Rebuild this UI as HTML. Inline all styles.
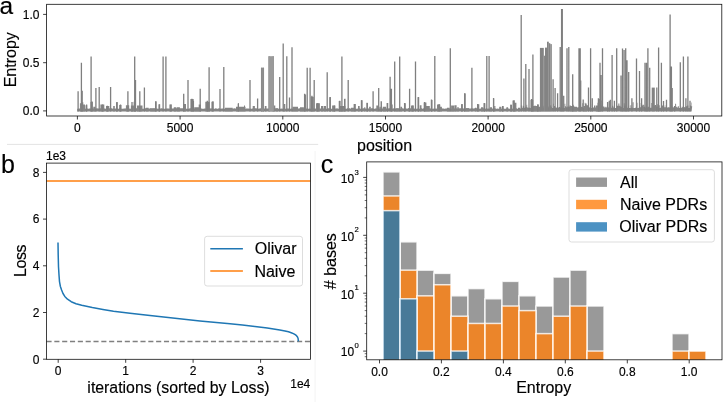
<!DOCTYPE html>
<html><head><meta charset="utf-8"><style>
html,body{margin:0;padding:0;background:#fff;overflow:hidden}
svg{display:block;will-change:transform}
text{font-family:"Liberation Sans",sans-serif}
</style></head><body>
<svg width="723" height="402" viewBox="0 0 723 402">
<defs></defs>
<rect width="723" height="402" fill="#fff"/>
<path d="M77.2 111.4 L77.2 108.7 L78.4 108.7 L78.4 108.5 L79.3 108.5 L79.3 108.5 L79.9 108.5 L79.9 108.8 L80.6 108.8 L80.6 108.3 L81.3 108.3 L81.3 108.4 L82.8 108.4 L82.8 108.6 L84.3 108.6 L84.3 108.2 L85.1 108.2 L85.1 108.8 L86.0 108.8 L86.0 108.7 L87.1 108.7 L87.1 108.6 L88.2 108.6 L88.2 108.8 L89.0 108.8 L89.0 108.6 L89.9 108.6 L89.9 108.5 L90.8 108.5 L90.8 108.4 L91.6 108.4 L91.6 108.5 L93.0 108.5 L93.0 108.6 L94.5 108.6 L94.5 108.6 L95.7 108.6 L95.7 108.5 L96.4 108.5 L96.4 108.3 L97.5 108.3 L97.5 108.6 L98.7 108.6 L98.7 108.4 L99.7 108.4 L99.7 108.2 L100.8 108.2 L100.8 108.8 L102.0 108.8 L102.0 108.2 L103.3 108.2 L103.3 108.6 L104.5 108.6 L104.5 108.5 L105.3 108.5 L105.3 108.8 L106.6 108.8 L106.6 108.7 L107.5 108.7 L107.5 108.8 L108.5 108.8 L108.5 108.2 L109.9 108.2 L109.9 108.7 L110.8 108.7 L110.8 108.2 L112.3 108.2 L112.3 108.7 L113.1 108.7 L113.1 108.5 L114.2 108.5 L114.2 108.8 L115.2 108.8 L115.2 108.5 L116.7 108.5 L116.7 108.5 L117.8 108.5 L117.8 108.8 L119.2 108.8 L119.2 108.2 L120.6 108.2 L120.6 108.6 L121.2 108.6 L121.2 108.8 L121.9 108.8 L121.9 108.7 L122.8 108.7 L122.8 108.8 L123.5 108.8 L123.5 108.6 L124.2 108.6 L124.2 108.4 L124.9 108.4 L124.9 108.6 L125.8 108.6 L125.8 108.3 L127.3 108.3 L127.3 108.5 L128.0 108.5 L128.0 108.6 L128.8 108.6 L128.8 108.7 L129.5 108.7 L129.5 108.5 L130.2 108.5 L130.2 108.8 L131.3 108.8 L131.3 108.2 L132.5 108.2 L132.5 108.6 L133.2 108.6 L133.2 108.5 L134.5 108.5 L134.5 108.7 L135.9 108.7 L135.9 108.3 L137.2 108.3 L137.2 108.3 L138.0 108.3 L138.0 108.6 L138.6 108.6 L138.6 108.7 L139.5 108.7 L139.5 108.2 L140.5 108.2 L140.5 108.2 L141.9 108.2 L141.9 108.7 L142.7 108.7 L142.7 108.7 L143.9 108.7 L143.9 108.3 L144.9 108.3 L144.9 108.3 L145.6 108.3 L145.6 108.2 L146.9 108.2 L146.9 108.5 L147.7 108.5 L147.7 108.6 L149.0 108.6 L149.0 108.6 L150.0 108.6 L150.0 108.3 L150.7 108.3 L150.7 108.7 L152.1 108.7 L152.1 108.7 L153.5 108.7 L153.5 108.4 L154.4 108.4 L154.4 108.8 L155.0 108.8 L155.0 108.4 L156.1 108.4 L156.1 108.5 L157.4 108.5 L157.4 108.7 L158.3 108.7 L158.3 108.7 L159.4 108.7 L159.4 108.6 L160.1 108.6 L160.1 108.6 L161.1 108.6 L161.1 108.2 L162.1 108.2 L162.1 108.5 L163.2 108.5 L163.2 108.8 L164.2 108.8 L164.2 108.8 L165.5 108.8 L165.5 108.5 L166.8 108.5 L166.8 108.6 L167.8 108.6 L167.8 108.3 L168.5 108.3 L168.5 108.7 L169.4 108.7 L169.4 108.5 L170.5 108.5 L170.5 108.2 L171.5 108.2 L171.5 108.5 L172.5 108.5 L172.5 108.5 L173.6 108.5 L173.6 108.2 L174.8 108.2 L174.8 108.2 L175.7 108.2 L175.7 108.2 L177.0 108.2 L177.0 108.8 L178.0 108.8 L178.0 108.7 L178.7 108.7 L178.7 108.3 L180.1 108.3 L180.1 108.3 L181.3 108.3 L181.3 108.2 L182.8 108.2 L182.8 108.2 L183.7 108.2 L183.7 108.2 L185.1 108.2 L185.1 108.5 L186.1 108.5 L186.1 108.7 L187.0 108.7 L187.0 108.8 L188.1 108.8 L188.1 108.8 L189.0 108.8 L189.0 108.5 L189.7 108.5 L189.7 108.3 L191.2 108.3 L191.2 108.7 L191.8 108.7 L191.8 108.7 L192.5 108.7 L192.5 108.2 L193.8 108.2 L193.8 108.7 L195.3 108.7 L195.3 108.4 L196.0 108.4 L196.0 108.4 L196.9 108.4 L196.9 108.2 L198.1 108.2 L198.1 108.8 L199.5 108.8 L199.5 108.2 L200.5 108.2 L200.5 108.5 L201.9 108.5 L201.9 108.8 L203.0 108.8 L203.0 108.8 L203.7 108.8 L203.7 108.7 L204.6 108.7 L204.6 108.3 L205.5 108.3 L205.5 108.7 L206.4 108.7 L206.4 108.7 L207.0 108.7 L207.0 108.5 L207.8 108.5 L207.8 108.2 L208.5 108.2 L208.5 108.5 L209.5 108.5 L209.5 108.6 L210.6 108.6 L210.6 108.2 L211.5 108.2 L211.5 108.4 L212.7 108.4 L212.7 108.6 L213.3 108.6 L213.3 108.8 L214.6 108.8 L214.6 108.7 L215.2 108.7 L215.2 108.2 L216.5 108.2 L216.5 108.7 L217.3 108.7 L217.3 108.7 L218.3 108.7 L218.3 108.2 L219.8 108.2 L219.8 108.7 L221.3 108.7 L221.3 108.6 L221.9 108.6 L221.9 108.5 L222.9 108.5 L222.9 108.5 L223.5 108.5 L223.5 108.8 L224.5 108.8 L224.5 108.8 L225.4 108.8 L225.4 108.4 L226.4 108.4 L226.4 108.4 L227.7 108.4 L227.7 108.6 L228.6 108.6 L228.6 108.7 L229.8 108.7 L229.8 108.8 L231.2 108.8 L231.2 108.4 L232.4 108.4 L232.4 108.8 L233.5 108.8 L233.5 108.3 L234.8 108.3 L234.8 108.4 L236.2 108.4 L236.2 108.4 L237.0 108.4 L237.0 108.8 L238.0 108.8 L238.0 108.3 L239.1 108.3 L239.1 108.4 L240.3 108.4 L240.3 108.8 L241.6 108.8 L241.6 108.5 L242.7 108.5 L242.7 108.8 L243.9 108.8 L243.9 108.8 L244.8 108.8 L244.8 108.7 L246.0 108.7 L246.0 108.5 L247.0 108.5 L247.0 108.4 L248.3 108.4 L248.3 108.4 L248.9 108.4 L248.9 108.7 L250.2 108.7 L250.2 108.5 L250.8 108.5 L250.8 108.7 L252.0 108.7 L252.0 108.4 L252.9 108.4 L252.9 108.5 L253.9 108.5 L253.9 108.2 L254.7 108.2 L254.7 108.2 L255.3 108.2 L255.3 108.3 L256.8 108.3 L256.8 108.7 L257.6 108.7 L257.6 108.7 L258.7 108.7 L258.7 108.5 L260.2 108.5 L260.2 108.3 L261.2 108.3 L261.2 108.4 L262.0 108.4 L262.0 108.5 L262.6 108.5 L262.6 108.5 L263.6 108.5 L263.6 108.8 L264.6 108.8 L264.6 108.3 L265.2 108.3 L265.2 108.3 L265.9 108.3 L265.9 108.4 L267.3 108.4 L267.3 108.6 L268.2 108.6 L268.2 108.4 L269.2 108.4 L269.2 108.7 L269.8 108.7 L269.8 108.3 L270.7 108.3 L270.7 108.7 L271.5 108.7 L271.5 108.7 L272.4 108.7 L272.4 108.2 L273.8 108.2 L273.8 108.2 L275.2 108.2 L275.2 108.3 L275.9 108.3 L275.9 108.5 L277.1 108.5 L277.1 108.6 L277.8 108.6 L277.8 108.8 L278.8 108.8 L278.8 108.6 L280.1 108.6 L280.1 108.7 L281.3 108.7 L281.3 108.5 L282.2 108.5 L282.2 108.7 L283.0 108.7 L283.0 108.5 L283.8 108.5 L283.8 108.2 L284.8 108.2 L284.8 108.7 L285.5 108.7 L285.5 108.8 L286.3 108.8 L286.3 108.5 L287.7 108.5 L287.7 108.6 L288.7 108.6 L288.7 108.6 L289.6 108.6 L289.6 108.7 L291.0 108.7 L291.0 108.5 L292.2 108.5 L292.2 108.7 L293.1 108.7 L293.1 108.6 L294.1 108.6 L294.1 108.3 L295.4 108.3 L295.4 108.8 L296.7 108.8 L296.7 108.5 L297.8 108.5 L297.8 108.6 L299.2 108.6 L299.2 108.3 L300.7 108.3 L300.7 108.8 L301.5 108.8 L301.5 108.4 L302.9 108.4 L302.9 108.4 L304.2 108.4 L304.2 108.5 L304.8 108.5 L304.8 108.7 L306.3 108.7 L306.3 108.6 L307.0 108.6 L307.0 108.4 L308.2 108.4 L308.2 108.8 L309.3 108.8 L309.3 108.6 L310.1 108.6 L310.1 108.8 L310.9 108.8 L310.9 108.2 L312.1 108.2 L312.1 108.5 L312.9 108.5 L312.9 108.2 L314.2 108.2 L314.2 108.8 L315.2 108.8 L315.2 108.6 L316.0 108.6 L316.0 108.2 L316.9 108.2 L316.9 108.6 L317.8 108.6 L317.8 108.7 L319.1 108.7 L319.1 108.5 L319.9 108.5 L319.9 108.6 L321.3 108.6 L321.3 108.7 L322.6 108.7 L322.6 108.2 L323.6 108.2 L323.6 108.7 L324.6 108.7 L324.6 108.2 L325.3 108.2 L325.3 108.7 L326.8 108.7 L326.8 108.8 L327.4 108.8 L327.4 108.2 L328.8 108.2 L328.8 108.2 L330.3 108.2 L330.3 108.7 L331.7 108.7 L331.7 108.8 L332.9 108.8 L332.9 108.6 L333.8 108.6 L333.8 108.8 L334.7 108.8 L334.7 108.2 L335.4 108.2 L335.4 108.7 L336.3 108.7 L336.3 108.3 L337.3 108.3 L337.3 108.5 L338.2 108.5 L338.2 108.7 L339.1 108.7 L339.1 108.8 L340.1 108.8 L340.1 108.3 L340.8 108.3 L340.8 108.8 L342.2 108.8 L342.2 108.3 L343.6 108.3 L343.6 108.7 L345.1 108.7 L345.1 108.7 L346.3 108.7 L346.3 108.7 L346.9 108.7 L346.9 108.2 L348.1 108.2 L348.1 108.8 L348.9 108.8 L348.9 108.2 L350.3 108.2 L350.3 108.7 L351.3 108.7 L351.3 108.2 L352.1 108.2 L352.1 108.3 L353.4 108.3 L353.4 108.4 L354.3 108.4 L354.3 108.6 L355.6 108.6 L355.6 108.7 L356.9 108.7 L356.9 108.8 L357.5 108.8 L357.5 108.6 L359.0 108.6 L359.0 108.2 L359.9 108.2 L359.9 108.8 L360.9 108.8 L360.9 108.5 L361.7 108.5 L361.7 108.4 L362.9 108.4 L362.9 108.3 L364.1 108.3 L364.1 108.3 L365.0 108.3 L365.0 108.6 L366.3 108.6 L366.3 108.7 L367.1 108.7 L367.1 108.2 L368.2 108.2 L368.2 108.6 L369.7 108.6 L369.7 108.7 L371.0 108.7 L371.0 108.2 L371.7 108.2 L371.7 108.3 L373.1 108.3 L373.1 108.8 L373.9 108.8 L373.9 108.7 L375.4 108.7 L375.4 108.2 L376.3 108.2 L376.3 108.5 L377.2 108.5 L377.2 108.2 L377.9 108.2 L377.9 108.4 L378.7 108.4 L378.7 108.8 L379.4 108.8 L379.4 108.4 L380.6 108.4 L380.6 108.8 L381.5 108.8 L381.5 108.7 L382.4 108.7 L382.4 108.3 L383.5 108.3 L383.5 108.8 L384.5 108.8 L384.5 108.4 L385.1 108.4 L385.1 108.4 L386.1 108.4 L386.1 108.6 L387.6 108.6 L387.6 108.5 L388.5 108.5 L388.5 108.2 L390.0 108.2 L390.0 108.7 L391.2 108.7 L391.2 108.8 L392.7 108.8 L392.7 108.3 L393.6 108.3 L393.6 108.5 L394.4 108.5 L394.4 108.5 L395.5 108.5 L395.5 108.8 L396.7 108.8 L396.7 108.5 L397.4 108.5 L397.4 108.5 L398.9 108.5 L398.9 108.5 L400.2 108.5 L400.2 108.7 L400.9 108.7 L400.9 108.2 L401.9 108.2 L401.9 108.2 L402.9 108.2 L402.9 108.4 L404.2 108.4 L404.2 108.3 L405.0 108.3 L405.0 108.3 L406.4 108.3 L406.4 108.7 L407.3 108.7 L407.3 108.6 L408.0 108.6 L408.0 108.3 L409.5 108.3 L409.5 108.5 L410.7 108.5 L410.7 108.3 L411.4 108.3 L411.4 108.5 L412.6 108.5 L412.6 108.6 L413.7 108.6 L413.7 108.4 L414.7 108.4 L414.7 108.8 L415.9 108.8 L415.9 108.7 L417.2 108.7 L417.2 108.5 L417.9 108.5 L417.9 108.8 L418.7 108.8 L418.7 108.8 L419.7 108.8 L419.7 108.8 L420.8 108.8 L420.8 108.3 L422.1 108.3 L422.1 108.8 L423.2 108.8 L423.2 108.2 L423.9 108.2 L423.9 108.2 L425.2 108.2 L425.2 108.7 L426.6 108.7 L426.6 108.2 L428.1 108.2 L428.1 108.3 L429.5 108.3 L429.5 108.6 L430.8 108.6 L430.8 108.2 L431.6 108.2 L431.6 108.7 L432.7 108.7 L432.7 108.7 L433.5 108.7 L433.5 108.6 L434.2 108.6 L434.2 108.7 L435.6 108.7 L435.6 108.2 L436.3 108.2 L436.3 108.8 L437.4 108.8 L437.4 108.6 L438.8 108.6 L438.8 108.4 L440.2 108.4 L440.2 108.2 L441.4 108.2 L441.4 108.3 L442.2 108.3 L442.2 108.4 L443.1 108.4 L443.1 108.5 L443.9 108.5 L443.9 108.8 L445.2 108.8 L445.2 108.4 L446.7 108.4 L446.7 108.4 L447.6 108.4 L447.6 108.8 L448.3 108.8 L448.3 108.5 L449.4 108.5 L449.4 108.8 L450.2 108.8 L450.2 108.8 L450.8 108.8 L450.8 108.8 L451.7 108.8 L451.7 108.4 L452.9 108.4 L452.9 108.4 L453.9 108.4 L453.9 108.2 L454.7 108.2 L454.7 108.8 L455.9 108.8 L455.9 108.3 L456.8 108.3 L456.8 108.8 L458.0 108.8 L458.0 108.6 L459.2 108.6 L459.2 108.2 L460.5 108.2 L460.5 108.2 L461.1 108.2 L461.1 108.6 L461.9 108.6 L461.9 108.3 L462.5 108.3 L462.5 108.2 L463.3 108.2 L463.3 108.4 L464.3 108.4 L464.3 108.3 L465.1 108.3 L465.1 108.6 L465.7 108.6 L465.7 108.3 L467.0 108.3 L467.0 108.3 L468.2 108.3 L468.2 108.3 L469.2 108.3 L469.2 108.8 L470.0 108.8 L470.0 108.6 L471.3 108.6 L471.3 108.3 L472.6 108.3 L472.6 108.5 L473.5 108.5 L473.5 108.5 L474.4 108.5 L474.4 108.2 L475.2 108.2 L475.2 108.8 L476.0 108.8 L476.0 108.3 L477.5 108.3 L477.5 108.6 L478.9 108.6 L478.9 108.7 L480.3 108.7 L480.3 108.4 L481.5 108.4 L481.5 108.5 L482.8 108.5 L482.8 108.2 L483.8 108.2 L483.8 108.5 L484.7 108.5 L484.7 108.4 L485.4 108.4 L485.4 108.7 L486.0 108.7 L486.0 108.2 L486.9 108.2 L486.9 108.8 L487.5 108.8 L487.5 108.4 L488.8 108.4 L488.8 108.8 L489.9 108.8 L489.9 108.3 L491.2 108.3 L491.2 108.8 L492.6 108.8 L492.6 108.2 L493.3 108.2 L493.3 108.8 L493.9 108.8 L493.9 108.3 L495.1 108.3 L495.1 108.4 L496.0 108.4 L496.0 108.8 L497.3 108.8 L497.3 108.6 L498.2 108.6 L498.2 108.7 L499.1 108.7 L499.1 108.6 L500.0 108.6 L500.0 108.5 L501.3 108.5 L501.3 108.8 L502.3 108.8 L502.3 108.3 L503.2 108.3 L503.2 108.5 L504.0 108.5 L504.0 108.8 L505.4 108.8 L505.4 108.8 L506.1 108.8 L506.1 108.2 L506.8 108.2 L506.8 108.5 L508.1 108.5 L508.1 108.5 L509.0 108.5 L509.0 108.7 L510.4 108.7 L510.4 108.7 L511.7 108.7 L511.7 108.8 L512.8 108.8 L512.8 108.3 L514.1 108.3 L514.1 108.4 L515.0 108.4 L515.0 108.6 L516.4 108.6 L516.4 108.2 L517.0 108.2 L517.0 108.7 L518.4 108.7 L518.4 108.6 L519.8 108.6 L519.8 108.5 L520.9 108.5 L520.9 105.6 L522.1 105.6 L522.1 107.8 L522.8 107.8 L522.8 105.8 L524.1 105.8 L524.1 107.7 L525.4 107.7 L525.4 106.8 L526.4 106.8 L526.4 104.8 L527.2 104.8 L527.2 107.4 L528.5 107.4 L528.5 107.9 L529.3 107.9 L529.3 107.6 L530.1 107.6 L530.1 107.9 L531.6 107.9 L531.6 106.9 L533.0 106.9 L533.0 107.7 L534.5 107.7 L534.5 105.6 L535.5 105.6 L535.5 107.5 L536.2 107.5 L536.2 107.7 L536.8 107.7 L536.8 107.3 L538.1 107.3 L538.1 107.5 L539.1 107.5 L539.1 107.5 L540.0 107.5 L540.0 105.3 L541.0 105.3 L541.0 105.6 L542.0 105.6 L542.0 107.4 L543.4 107.4 L543.4 105.7 L544.8 105.7 L544.8 105.8 L545.8 105.8 L545.8 107.5 L546.5 107.5 L546.5 107.3 L547.7 107.3 L547.7 106.6 L548.7 106.6 L548.7 107.5 L549.7 107.5 L549.7 105.2 L550.4 105.2 L550.4 105.5 L551.4 105.5 L551.4 107.1 L552.0 107.1 L552.0 107.9 L553.3 107.9 L553.3 103.8 L554.0 103.8 L554.0 106.0 L555.2 106.0 L555.2 107.5 L556.6 107.5 L556.6 107.7 L558.0 107.7 L558.0 107.4 L559.0 107.4 L559.0 106.9 L560.5 106.9 L560.5 108.0 L561.3 108.0 L561.3 108.1 L562.3 108.1 L562.3 107.4 L563.2 107.4 L563.2 107.9 L564.5 107.9 L564.5 103.8 L565.3 103.8 L565.3 106.3 L566.1 106.3 L566.1 107.3 L567.4 107.3 L567.4 106.2 L568.5 106.2 L568.5 107.1 L569.4 107.1 L569.4 105.5 L570.8 105.5 L570.8 107.8 L571.9 107.8 L571.9 107.3 L572.8 107.3 L572.8 104.7 L573.7 104.7 L573.7 107.7 L574.5 107.7 L574.5 107.4 L575.3 107.4 L575.3 107.8 L576.4 107.8 L576.4 107.5 L577.6 107.5 L577.6 107.2 L578.9 107.2 L578.9 107.3 L580.3 107.3 L580.3 106.8 L581.7 106.8 L581.7 107.1 L582.3 107.1 L582.3 103.3 L583.1 103.3 L583.1 108.0 L583.9 108.0 L583.9 106.4 L584.7 106.4 L584.7 102.8 L585.4 102.8 L585.4 103.5 L586.7 103.5 L586.7 105.3 L588.0 105.3 L588.0 106.7 L589.3 106.7 L589.3 107.4 L590.3 107.4 L590.3 103.7 L591.1 103.7 L591.1 108.0 L592.1 108.0 L592.1 107.6 L592.9 107.6 L592.9 107.6 L594.0 107.6 L594.0 105.6 L595.3 105.6 L595.3 107.5 L596.5 107.5 L596.5 106.4 L597.5 106.4 L597.5 102.7 L598.7 102.7 L598.7 107.0 L599.8 107.0 L599.8 105.2 L600.7 105.2 L600.7 100.5 L601.7 100.5 L601.7 105.5 L603.0 105.5 L603.0 106.4 L604.4 106.4 L604.4 107.6 L605.4 107.6 L605.4 106.7 L606.4 106.7 L606.4 107.5 L607.8 107.5 L607.8 107.3 L608.7 107.3 L608.7 107.8 L609.8 107.8 L609.8 99.8 L611.1 99.8 L611.1 107.8 L612.0 107.8 L612.0 105.8 L613.3 105.8 L613.3 107.4 L614.7 107.4 L614.7 108.1 L615.5 108.1 L615.5 107.9 L617.0 107.9 L617.0 105.8 L618.3 105.8 L618.3 103.5 L619.4 103.5 L619.4 105.7 L620.6 105.7 L620.6 106.7 L621.8 106.7 L621.8 107.3 L622.5 107.3 L622.5 108.1 L623.8 108.1 L623.8 103.3 L624.7 103.3 L624.7 105.5 L625.8 105.5 L625.8 107.8 L626.8 107.8 L626.8 107.7 L628.0 107.7 L628.0 105.4 L629.1 105.4 L629.1 108.0 L630.4 108.0 L630.4 105.3 L631.4 105.3 L631.4 107.7 L632.5 107.7 L632.5 102.2 L633.6 102.2 L633.6 108.0 L634.7 108.0 L634.7 107.9 L635.4 107.9 L635.4 107.4 L636.1 107.4 L636.1 102.7 L637.5 102.7 L637.5 108.1 L638.7 108.1 L638.7 107.4 L639.5 107.4 L639.5 107.3 L640.7 107.3 L640.7 103.0 L641.4 103.0 L641.4 105.7 L642.4 105.7 L642.4 104.7 L643.9 104.7 L643.9 107.1 L644.5 107.1 L644.5 105.5 L645.2 105.5 L645.2 107.4 L645.9 107.4 L645.9 103.9 L646.6 103.9 L646.6 107.5 L647.6 107.5 L647.6 106.8 L648.9 106.8 L648.9 107.5 L650.0 107.5 L650.0 107.7 L651.3 107.7 L651.3 102.9 L652.5 102.9 L652.5 108.0 L653.9 108.0 L653.9 105.4 L654.8 105.4 L654.8 105.1 L656.2 105.1 L656.2 106.5 L657.2 106.5 L657.2 104.3 L658.4 104.3 L658.4 105.3 L659.7 105.3 L659.7 108.1 L660.5 108.1 L660.5 107.5 L661.9 107.5 L661.9 105.5 L663.2 105.5 L663.2 105.4 L664.3 105.4 L664.3 107.2 L665.7 107.2 L665.7 105.3 L666.6 105.3 L666.6 107.5 L667.9 107.5 L667.9 107.3 L669.3 107.3 L669.3 107.5 L670.5 107.5 L670.5 107.9 L671.4 107.9 L671.4 105.5 L672.4 105.5 L672.4 107.3 L673.7 107.3 L673.7 107.5 L675.1 107.5 L675.1 103.8 L676.1 103.8 L676.1 106.7 L676.9 106.7 L676.9 107.4 L677.8 107.4 L677.8 106.3 L678.9 106.3 L678.9 108.1 L680.4 108.1 L680.4 108.0 L681.6 108.0 L681.6 106.8 L682.7 106.8 L682.7 107.6 L683.3 107.6 L683.3 107.1 L684.7 107.1 L684.7 107.5 L685.5 107.5 L685.5 106.2 L687.0 106.2 L687.0 105.5 L688.4 105.5 L688.4 108.1 L689.2 108.1 L689.2 108.0 L689.9 108.0 L689.9 105.4 L690.9 105.4 L690.9 102.4 L691.5 102.4 L691.5 106.3 L692.2 106.3 L691.6 111.4 Z" fill="#858585"/>
<path d="M79.9 111.4H81.0V103.3H79.9ZM81.0 111.4H83.3V102.3H81.0ZM83.3 111.4H85.0V104.5H83.3ZM85.5 111.4H87.2V105.3H85.5ZM90.5 111.4H92.7V101.9H90.5ZM93.3 111.4H95.5V106.7H93.3ZM100.4 111.4H104.3V104.5H100.4ZM106.0 111.4H109.3V106.1H106.0ZM113.2 111.4H114.8V106.1H113.2ZM116.0 111.4H117.6V102.3H116.0ZM119.2 111.4H121.5V105.0H119.2ZM125.9 111.4H129.2V105.3H125.9ZM130.9 111.4H135.3V105.6H130.9ZM133.6 111.4H135.8V101.7H133.6ZM137.0 111.4H142.5V105.6H137.0ZM145.8 111.4H148.6V107.8H145.8ZM150.2 111.4H155.0V108.3H150.2ZM155.0 111.4H156.6V101.4H155.0ZM158.6 111.4H160.2V104.3H158.6ZM169.4 111.4H171.6V104.5H169.4ZM173.8 111.4H176.0V107.3H173.8ZM176.5 111.4H179.9V107.3H176.5ZM183.2 111.4H186.0V103.9H183.2ZM190.4 111.4H193.7V98.9H190.4ZM194.2 111.4H198.7V107.3H194.2ZM198.7 111.4H200.9V104.5H198.7ZM205.3 111.4H209.7V101.7H205.3ZM211.4 111.4H213.6V101.7H211.4ZM226.3 111.4H230.0V108.3H226.3ZM225.0 111.4H232.7V107.8H225.0ZM236.0 111.4H245.5V106.7H236.0ZM238.0 111.4H239.0V103.3H238.0ZM244.0 111.4H245.0V105.6H244.0ZM252.7 111.4H254.9V106.1H252.7ZM264.8 111.4H266.5V106.1H264.8ZM273.7 111.4H275.3V105.6H273.7ZM275.9 111.4H278.1V108.3H275.9ZM283.6 111.4H285.3V103.9H283.6ZM292.5 111.4H298.0V106.7H292.5ZM300.2 111.4H302.4V107.3H300.2ZM300.0 111.4H303.9V107.3H300.0ZM304.2 111.4H306.1V94.5H304.2ZM310.8 111.4H313.8V96.7H310.8ZM316.0 111.4H319.9V103.3H316.0ZM321.0 111.4H323.2V106.1H321.0ZM323.8 111.4H326.0V106.1H323.8ZM329.3 111.4H330.8V97.3H329.3ZM332.1 111.4H335.4V105.6H332.1ZM338.7 111.4H340.4V101.1H338.7ZM340.4 111.4H345.4V106.1H340.4ZM344.0 111.4H345.0V98.9H344.0ZM350.9 111.4H355.3V107.8H350.9ZM353.6 111.4H355.3V103.9H353.6ZM358.0 111.4H359.7V106.1H358.0ZM360.8 111.4H362.5V100.3H360.8ZM364.2 111.4H365.3V107.3H364.2ZM366.4 111.4H367.7V102.8H366.4ZM369.1 111.4H370.8V106.7H369.1ZM376.3 111.4H378.0V105.6H376.3ZM379.4 111.4H380.8V106.7H379.4ZM381.1 111.4H381.9V101.7H381.1ZM382.7 111.4H386.1V106.7H382.7ZM386.6 111.4H387.7V103.1H386.6ZM391.0 111.4H392.7V104.5H391.0ZM395.5 111.4H398.8V108.3H395.5ZM400.4 111.4H402.1V106.7H400.4ZM404.0 111.4H405.8V103.3H404.0ZM408.2 111.4H410.4V108.3H408.2ZM411.0 111.4H413.7V105.6H411.0ZM417.6 111.4H419.2V97.3H417.6ZM419.8 111.4H421.5V105.3H419.8ZM423.7 111.4H426.4V102.5H423.7ZM426.4 111.4H429.8V106.1H426.4ZM430.9 111.4H432.5V100.0H430.9ZM437.0 111.4H440.3V104.5H437.0ZM440.3 111.4H441.9V106.7H440.3ZM446.9 111.4H449.7V107.8H446.9ZM451.9 111.4H454.1V105.6H451.9ZM451.1 111.4H452.8V105.6H451.1ZM454.4 111.4H456.6V105.3H454.4ZM457.2 111.4H458.8V107.3H457.2ZM461.1 111.4H462.7V104.3H461.1ZM464.2 111.4H465.7V93.4H464.2ZM466.0 111.4H469.4V108.3H466.0ZM474.9 111.4H476.5V107.8H474.9ZM477.4 111.4H479.3V104.3H477.4ZM481.0 111.4H483.2V107.3H481.0ZM483.7 111.4H485.4V103.3H483.7ZM489.8 111.4H492.0V107.3H489.8ZM492.9 111.4H494.0V98.1H492.9ZM494.2 111.4H495.4V106.1H494.2ZM499.2 111.4H501.4V106.7H499.2ZM502.0 111.4H503.7V106.1H502.0ZM506.4 111.4H508.1V107.3H506.4ZM510.3 111.4H512.0V105.0H510.3ZM512.5 111.4H514.5V100.6H512.5ZM514.5 111.4H516.4V102.8H514.5ZM518.0 111.4H520.0V107.8H518.0ZM530.5 111.4H533.3V100.0H530.5ZM533.3 111.4H537.2V106.1H533.3ZM537.2 111.4H538.8V104.5H537.2ZM538.8 111.4H540.5V106.7H538.8ZM569.8 111.4H574.2V106.1H569.8ZM574.2 111.4H577.0V106.7H574.2ZM583.6 111.4H587.0V106.1H583.6ZM595.8 111.4H598.0V105.6H595.8ZM598.0 111.4H600.2V98.9H598.0Z" fill="#858585"/>
<path d="M78.1 111.4V91.2M81.4 111.4V62.8M82.2 111.4V90.7M91.1 111.4V56.4M92.1 111.4V101.6M95.9 111.4V88.1M99.2 111.4V86.9M86.6 111.4V104.4M102.5 111.4V104.4M107.3 111.4V105.7M110.6 111.4V86.9M117.0 111.4V102.1M120.5 111.4V104.4M127.9 111.4V91.2M134.7 111.4V56.4M135.5 111.4V80.0M132.0 111.4V102.0M139.8 111.4V91.2M144.4 111.4V87.6M155.8 111.4V101.3M159.3 111.4V104.6M163.1 111.4V56.4M165.9 111.4V56.4M171.0 111.4V104.6M183.7 111.4V93.7M188.0 111.4V80.0M191.9 111.4V98.8M193.4 111.4V100.8M200.2 111.4V88.7M207.3 111.4V100.8M209.1 111.4V67.3M212.9 111.4V101.3M220.0 111.4V88.9M223.8 111.4V67.1M238.3 111.4V103.4M250.0 111.4V80.0M257.6 111.4V98.6M261.6 111.4V67.7M263.4 111.4V67.7M269.1 111.4V56.2M273.2 111.4V56.2M279.7 111.4V77.1M283.2 111.4V43.6M286.8 111.4V56.2M289.5 111.4V97.4M292.0 111.4V47.2M304.6 111.4V93.7M307.2 111.4V67.8M310.1 111.4V67.8M311.9 111.4V95.8M314.2 111.4V80.0M317.8 111.4V102.9M327.2 111.4V72.2M330.2 111.4V97.0M334.3 111.4V105.4M339.8 111.4V100.8M341.9 111.4V56.4M344.9 111.4V98.8M348.2 111.4V80.0M355.1 111.4V103.9M361.7 111.4V100.3M367.3 111.4V102.9M373.1 111.4V91.2M378.7 111.4V88.1M381.2 111.4V101.3M387.6 111.4V102.9M390.1 111.4V76.7M391.4 111.4V88.7M394.7 111.4V61.5M399.7 111.4V56.4M404.6 111.4V102.9M409.6 111.4V88.7M412.9 111.4V105.4M415.5 111.4V61.5M418.4 111.4V97.0M424.6 111.4V102.1M431.5 111.4V99.6M434.8 111.4V55.9M439.1 111.4V103.9M450.3 111.4V48.3M462.0 111.4V103.9M464.7 111.4V93.2M471.9 111.4V67.8M477.7 111.4V103.9M484.3 111.4V102.9M486.8 111.4V55.9M489.1 111.4V55.9M493.7 111.4V98.3M502.6 111.4V106.4M511.0 111.4V104.6M514.0 111.4V100.3M521.2 111.4V14.9M523.9 111.4V78.5M525.8 111.4V64.0M529.0 111.4V69.1M532.9 111.4V54.6M531.5 111.4V99.0M537.8 111.4V104.6M553.1 111.4V79.3M555.1 111.4V88.1M557.6 111.4V93.2M560.2 111.4V47.0M561.6 111.4V8.9M562.3 111.4V8.9M563.7 111.4V95.8M567.0 111.4V48.3M568.8 111.4V47.0M572.7 111.4V74.2M579.0 111.4V48.3M580.2 111.4V48.3M580.7 111.4V80.5M583.2 111.4V99.6M588.5 111.4V87.6M590.6 111.4V48.3M592.3 111.4V98.3M598.4 111.4V98.3M600.0 111.4V62.8M601.0 111.4V75.0M602.5 111.4V48.3M607.6 111.4V102.1M609.3 111.4V100.8M612.1 111.4V55.1M614.4 111.4V100.8M616.7 111.4V48.3M621.0 111.4V75.5M622.5 111.4V48.5M624.1 111.4V50.1M625.7 111.4V48.3M627.0 111.4V60.2M628.7 111.4V72.0M631.9 111.4V98.3M636.5 111.4V58.4M639.5 111.4V70.9M641.6 111.4V98.3M645.0 111.4V62.8M646.5 111.4V62.8M647.9 111.4V48.3M649.7 111.4V67.8M656.8 111.4V87.6M658.6 111.4V47.5M661.4 111.4V62.8M663.5 111.4V101.0M666.5 111.4V99.8M670.1 111.4V14.5M671.4 111.4V66.6M672.2 111.4V88.1M674.6 111.4V105.9M680.3 111.4V62.3M683.4 111.4V56.4M685.9 111.4V98.3M687.9 111.4V56.4M690.0 111.4V100.8" stroke="#7f7f7f" stroke-width="1.3" fill="none"/>
<rect x="268.6" y="56.2" width="5.2" height="55.2" fill="#9a9a9a"/>
<rect x="261.2" y="67.7" width="2.7" height="43.7" fill="#8e8e8e"/>
<rect x="539.9" y="47.9" width="3.9" height="63.5" fill="#838383"/>
<rect x="543.8" y="55.7" width="1.2" height="55.7" fill="#8a8a8a"/>
<rect x="545.0" y="47.6" width="2.0" height="63.8" fill="#838383"/>
<rect x="547.0" y="41.7" width="1.8" height="69.7" fill="#838383"/>
<rect x="548.8" y="43.2" width="1.5" height="68.2" fill="#838383"/>
<rect x="550.3" y="44.1" width="1.5" height="67.3" fill="#838383"/>
<rect x="651.7" y="87.6" width="3.1" height="23.8" fill="#838383"/>
<rect x="46.6" y="4.3" width="675.2" height="111.7" fill="none" stroke="#111" stroke-width="0.80"/>
<line x1="43.1" x2="46.6" y1="110.9" y2="110.9" stroke="#111" stroke-width="0.80"/>
<text x="39.40" y="115.20" font-size="12.00" text-anchor="end" fill="#000" stroke="#000" stroke-width="0.15" stroke-linejoin="round">0.0</text>
<line x1="43.1" x2="46.6" y1="62.7" y2="62.7" stroke="#111" stroke-width="0.80"/>
<text x="39.40" y="66.95" font-size="12.00" text-anchor="end" fill="#000" stroke="#000" stroke-width="0.15" stroke-linejoin="round">0.5</text>
<line x1="43.1" x2="46.6" y1="14.4" y2="14.4" stroke="#111" stroke-width="0.80"/>
<text x="39.40" y="18.70" font-size="12.00" text-anchor="end" fill="#000" stroke="#000" stroke-width="0.15" stroke-linejoin="round">1.0</text>
<line x1="77.4" x2="77.4" y1="116.0" y2="119.5" stroke="#111" stroke-width="0.80"/>
<text x="77.40" y="131.50" font-size="12.00" text-anchor="middle" fill="#000" stroke="#000" stroke-width="0.15" stroke-linejoin="round">0</text>
<line x1="180.1" x2="180.1" y1="116.0" y2="119.5" stroke="#111" stroke-width="0.80"/>
<text x="180.09" y="131.50" font-size="12.00" text-anchor="middle" fill="#000" stroke="#000" stroke-width="0.15" stroke-linejoin="round">5000</text>
<line x1="282.8" x2="282.8" y1="116.0" y2="119.5" stroke="#111" stroke-width="0.80"/>
<text x="282.77" y="131.50" font-size="12.00" text-anchor="middle" fill="#000" stroke="#000" stroke-width="0.15" stroke-linejoin="round">10000</text>
<line x1="385.5" x2="385.5" y1="116.0" y2="119.5" stroke="#111" stroke-width="0.80"/>
<text x="385.46" y="131.50" font-size="12.00" text-anchor="middle" fill="#000" stroke="#000" stroke-width="0.15" stroke-linejoin="round">15000</text>
<line x1="488.1" x2="488.1" y1="116.0" y2="119.5" stroke="#111" stroke-width="0.80"/>
<text x="488.14" y="131.50" font-size="12.00" text-anchor="middle" fill="#000" stroke="#000" stroke-width="0.15" stroke-linejoin="round">20000</text>
<line x1="590.8" x2="590.8" y1="116.0" y2="119.5" stroke="#111" stroke-width="0.80"/>
<text x="590.82" y="131.50" font-size="12.00" text-anchor="middle" fill="#000" stroke="#000" stroke-width="0.15" stroke-linejoin="round">25000</text>
<line x1="693.5" x2="693.5" y1="116.0" y2="119.5" stroke="#111" stroke-width="0.80"/>
<text x="693.51" y="131.50" font-size="12.00" text-anchor="middle" fill="#000" stroke="#000" stroke-width="0.15" stroke-linejoin="round">30000</text>
<text x="384.60" y="151.00" font-size="16.00" text-anchor="middle" fill="#000" stroke="#000" stroke-width="0.15" stroke-linejoin="round">position</text>
<text transform="translate(16.20 59.80) rotate(-90)" font-size="16.00" text-anchor="middle" fill="#000" stroke="#000" stroke-width="0.15" stroke-linejoin="round">Entropy</text>
<text x="-0.40" y="13.80" font-size="24.50" fill="#000" stroke="#000" stroke-width="0.15" stroke-linejoin="round">a</text>
<line x1="7" x2="318.2" y1="144.4" y2="144.4" stroke="#e4e4e4" stroke-width="1"/>
<line x1="315.1" x2="315.1" y1="151" y2="402" stroke="#f3f3f3" stroke-width="1"/>
<line x1="46.5" x2="310.5" y1="180.9" y2="180.9" stroke="#ff7f0e" stroke-width="1.5"/>
<line x1="46.5" x2="310.5" y1="341.5" y2="341.5" stroke="#808080" stroke-width="1.4" stroke-dasharray="5.1 2.73"/>
<path d="M58.0 242.6 L58.2 255.0 L58.5 266.7 L59.0 275.0 L59.5 281.6 L60.4 286.5 L61.6 290.0 L63.0 293.5 L64.8 296.4 L67.5 299.2 L71.2 301.7 L76.0 303.7 L81.7 305.3 L92.3 307.6 L102.9 309.5 L113.5 311.2 L130.0 313.3 L150.0 315.6 L175.0 318.3 L200.0 321.0 L230.0 323.7 L242.4 324.9 L254.9 326.4 L267.3 328.0 L279.8 329.9 L285.0 330.9 L288.5 331.8 L291.2 332.7 L293.4 333.6 L295.2 334.7 L296.5 335.7 L297.5 337.0 L298.1 338.5 L298.4 341.3" stroke="#1f77b4" stroke-width="1.5" fill="none" stroke-linejoin="round"/>
<rect x="46.5" y="163.1" width="264.0" height="196.2" fill="none" stroke="#111" stroke-width="0.80"/>
<line x1="43.0" x2="46.5" y1="359.2" y2="359.2" stroke="#111" stroke-width="0.80"/>
<text x="39.40" y="363.50" font-size="12.00" text-anchor="end" fill="#000" stroke="#000" stroke-width="0.15" stroke-linejoin="round">0</text>
<line x1="43.0" x2="46.5" y1="312.5" y2="312.5" stroke="#111" stroke-width="0.80"/>
<text x="39.40" y="316.80" font-size="12.00" text-anchor="end" fill="#000" stroke="#000" stroke-width="0.15" stroke-linejoin="round">2</text>
<line x1="43.0" x2="46.5" y1="265.8" y2="265.8" stroke="#111" stroke-width="0.80"/>
<text x="39.40" y="270.10" font-size="12.00" text-anchor="end" fill="#000" stroke="#000" stroke-width="0.15" stroke-linejoin="round">4</text>
<line x1="43.0" x2="46.5" y1="219.1" y2="219.1" stroke="#111" stroke-width="0.80"/>
<text x="39.40" y="223.40" font-size="12.00" text-anchor="end" fill="#000" stroke="#000" stroke-width="0.15" stroke-linejoin="round">6</text>
<line x1="43.0" x2="46.5" y1="172.4" y2="172.4" stroke="#111" stroke-width="0.80"/>
<text x="39.40" y="176.70" font-size="12.00" text-anchor="end" fill="#000" stroke="#000" stroke-width="0.15" stroke-linejoin="round">8</text>
<line x1="58.2" x2="58.2" y1="359.3" y2="362.8" stroke="#111" stroke-width="0.80"/>
<text x="58.20" y="374.80" font-size="12.00" text-anchor="middle" fill="#000" stroke="#000" stroke-width="0.15" stroke-linejoin="round">0</text>
<line x1="125.7" x2="125.7" y1="359.3" y2="362.8" stroke="#111" stroke-width="0.80"/>
<text x="125.67" y="374.80" font-size="12.00" text-anchor="middle" fill="#000" stroke="#000" stroke-width="0.15" stroke-linejoin="round">1</text>
<line x1="193.1" x2="193.1" y1="359.3" y2="362.8" stroke="#111" stroke-width="0.80"/>
<text x="193.14" y="374.80" font-size="12.00" text-anchor="middle" fill="#000" stroke="#000" stroke-width="0.15" stroke-linejoin="round">2</text>
<line x1="260.6" x2="260.6" y1="359.3" y2="362.8" stroke="#111" stroke-width="0.80"/>
<text x="260.61" y="374.80" font-size="12.00" text-anchor="middle" fill="#000" stroke="#000" stroke-width="0.15" stroke-linejoin="round">3</text>
<text x="46.00" y="159.50" font-size="12.00" fill="#000" stroke="#000" stroke-width="0.15" stroke-linejoin="round">1e3</text>
<text x="310.30" y="388.40" font-size="12.00" text-anchor="end" fill="#000" stroke="#000" stroke-width="0.15" stroke-linejoin="round">1e4</text>
<text x="178.50" y="392.50" font-size="15.85" text-anchor="middle" fill="#000" stroke="#000" stroke-width="0.15" stroke-linejoin="round">iterations (sorted by Loss)</text>
<text transform="translate(26.00 260.90) rotate(-90)" font-size="16.00" text-anchor="middle" letter-spacing="-0.45" fill="#000" stroke="#000" stroke-width="0.15" stroke-linejoin="round">Loss</text>
<text x="0.90" y="172.75" font-size="25.00" fill="#000" stroke="#000" stroke-width="0.15" stroke-linejoin="round">b</text>
<rect x="204.6" y="236.3" width="97.9" height="49.7" rx="2.5" fill="#fff" fill-opacity="0.8" stroke="#d4d4d4" stroke-width="0.8"/>
<line x1="210.3" x2="242.9" y1="248.75" y2="248.75" stroke="#1f77b4" stroke-width="1.5"/>
<line x1="210.3" x2="242.9" y1="271.1" y2="271.1" stroke="#ff7f0e" stroke-width="1.5"/>
<text x="254.80" y="253.80" font-size="16.00" fill="#000" stroke="#000" stroke-width="0.15" stroke-linejoin="round">Olivar</text>
<text x="254.40" y="276.50" font-size="16.00" fill="#000" stroke="#000" stroke-width="0.15" stroke-linejoin="round">Naive</text>
<clipPath id="cc"><rect x="366.7" y="161.9" width="355.3" height="197.9"/></clipPath>
<g clip-path="url(#cc)">
<rect x="383.00" y="171.93" width="17.00" height="189.97" fill="#808080" fill-opacity="0.8" stroke="#fff" stroke-opacity="0.8" stroke-width="1.5"/>
<rect x="400.00" y="241.88" width="17.00" height="120.02" fill="#808080" fill-opacity="0.8" stroke="#fff" stroke-opacity="0.8" stroke-width="1.5"/>
<rect x="417.00" y="270.15" width="17.00" height="91.75" fill="#808080" fill-opacity="0.8" stroke="#fff" stroke-opacity="0.8" stroke-width="1.5"/>
<rect x="434.00" y="273.36" width="17.00" height="88.54" fill="#808080" fill-opacity="0.8" stroke="#fff" stroke-opacity="0.8" stroke-width="1.5"/>
<rect x="451.00" y="295.83" width="17.00" height="66.07" fill="#808080" fill-opacity="0.8" stroke="#fff" stroke-opacity="0.8" stroke-width="1.5"/>
<rect x="468.00" y="288.60" width="17.00" height="73.30" fill="#808080" fill-opacity="0.8" stroke="#fff" stroke-opacity="0.8" stroke-width="1.5"/>
<rect x="485.00" y="298.79" width="17.00" height="63.11" fill="#808080" fill-opacity="0.8" stroke="#fff" stroke-opacity="0.8" stroke-width="1.5"/>
<rect x="502.00" y="281.37" width="17.00" height="80.53" fill="#808080" fill-opacity="0.8" stroke="#fff" stroke-opacity="0.8" stroke-width="1.5"/>
<rect x="519.00" y="295.83" width="17.00" height="66.07" fill="#808080" fill-opacity="0.8" stroke="#fff" stroke-opacity="0.8" stroke-width="1.5"/>
<rect x="536.00" y="306.02" width="17.00" height="55.88" fill="#808080" fill-opacity="0.8" stroke="#fff" stroke-opacity="0.8" stroke-width="1.5"/>
<rect x="553.00" y="277.05" width="17.00" height="84.85" fill="#808080" fill-opacity="0.8" stroke="#fff" stroke-opacity="0.8" stroke-width="1.5"/>
<rect x="570.00" y="270.15" width="17.00" height="91.75" fill="#808080" fill-opacity="0.8" stroke="#fff" stroke-opacity="0.8" stroke-width="1.5"/>
<rect x="587.00" y="306.02" width="17.00" height="55.88" fill="#808080" fill-opacity="0.8" stroke="#fff" stroke-opacity="0.8" stroke-width="1.5"/>
<rect x="672.00" y="333.63" width="17.00" height="28.27" fill="#808080" fill-opacity="0.8" stroke="#fff" stroke-opacity="0.8" stroke-width="1.5"/>
<rect x="689.00" y="351.05" width="17.00" height="10.85" fill="#808080" fill-opacity="0.8" stroke="#fff" stroke-opacity="0.8" stroke-width="1.5"/>
<rect x="383.00" y="195.94" width="17.00" height="165.96" fill="#ff7f0e" fill-opacity="0.8" stroke="#fff" stroke-opacity="0.8" stroke-width="1.5"/>
<rect x="400.00" y="270.15" width="17.00" height="91.75" fill="#ff7f0e" fill-opacity="0.8" stroke="#fff" stroke-opacity="0.8" stroke-width="1.5"/>
<rect x="417.00" y="295.83" width="17.00" height="66.07" fill="#ff7f0e" fill-opacity="0.8" stroke="#fff" stroke-opacity="0.8" stroke-width="1.5"/>
<rect x="434.00" y="284.72" width="17.00" height="77.18" fill="#ff7f0e" fill-opacity="0.8" stroke="#fff" stroke-opacity="0.8" stroke-width="1.5"/>
<rect x="451.00" y="316.21" width="17.00" height="45.69" fill="#ff7f0e" fill-opacity="0.8" stroke="#fff" stroke-opacity="0.8" stroke-width="1.5"/>
<rect x="468.00" y="323.44" width="17.00" height="38.46" fill="#ff7f0e" fill-opacity="0.8" stroke="#fff" stroke-opacity="0.8" stroke-width="1.5"/>
<rect x="485.00" y="323.44" width="17.00" height="38.46" fill="#ff7f0e" fill-opacity="0.8" stroke="#fff" stroke-opacity="0.8" stroke-width="1.5"/>
<rect x="502.00" y="306.02" width="17.00" height="55.88" fill="#ff7f0e" fill-opacity="0.8" stroke="#fff" stroke-opacity="0.8" stroke-width="1.5"/>
<rect x="519.00" y="310.60" width="17.00" height="51.30" fill="#ff7f0e" fill-opacity="0.8" stroke="#fff" stroke-opacity="0.8" stroke-width="1.5"/>
<rect x="536.00" y="333.63" width="17.00" height="28.27" fill="#ff7f0e" fill-opacity="0.8" stroke="#fff" stroke-opacity="0.8" stroke-width="1.5"/>
<rect x="553.00" y="316.21" width="17.00" height="45.69" fill="#ff7f0e" fill-opacity="0.8" stroke="#fff" stroke-opacity="0.8" stroke-width="1.5"/>
<rect x="570.00" y="306.02" width="17.00" height="55.88" fill="#ff7f0e" fill-opacity="0.8" stroke="#fff" stroke-opacity="0.8" stroke-width="1.5"/>
<rect x="587.00" y="351.05" width="17.00" height="10.85" fill="#ff7f0e" fill-opacity="0.8" stroke="#fff" stroke-opacity="0.8" stroke-width="1.5"/>
<rect x="672.00" y="351.05" width="17.00" height="10.85" fill="#ff7f0e" fill-opacity="0.8" stroke="#fff" stroke-opacity="0.8" stroke-width="1.5"/>
<rect x="689.00" y="351.05" width="17.00" height="10.85" fill="#ff7f0e" fill-opacity="0.8" stroke="#fff" stroke-opacity="0.8" stroke-width="1.5"/>
<rect x="383.00" y="210.63" width="17.00" height="151.27" fill="#1f77b4" fill-opacity="0.8" stroke="#fff" stroke-opacity="0.8" stroke-width="1.5"/>
<rect x="400.00" y="298.79" width="17.00" height="63.11" fill="#1f77b4" fill-opacity="0.8" stroke="#fff" stroke-opacity="0.8" stroke-width="1.5"/>
<rect x="417.00" y="351.05" width="17.00" height="10.85" fill="#1f77b4" fill-opacity="0.8" stroke="#fff" stroke-opacity="0.8" stroke-width="1.5"/>
<rect x="451.00" y="351.05" width="17.00" height="10.85" fill="#1f77b4" fill-opacity="0.8" stroke="#fff" stroke-opacity="0.8" stroke-width="1.5"/>
</g>
<rect x="366.7" y="161.9" width="355.3" height="197.9" fill="none" stroke="#111" stroke-width="0.80"/>
<line x1="363.2" x2="366.7" y1="351.1" y2="351.1" stroke="#111" stroke-width="0.80"/>
<text x="354.20" y="356.45" font-size="12.00" text-anchor="end" fill="#000" stroke="#000" stroke-width="0.15" stroke-linejoin="round">10</text>
<text x="354.50" y="348.15" font-size="7.70" fill="#000" stroke="#000" stroke-width="0.15" stroke-linejoin="round">0</text>
<line x1="364.7" x2="366.7" y1="333.6" y2="333.6" stroke="#111" stroke-width="0.6"/>
<line x1="364.7" x2="366.7" y1="323.4" y2="323.4" stroke="#111" stroke-width="0.6"/>
<line x1="364.7" x2="366.7" y1="316.2" y2="316.2" stroke="#111" stroke-width="0.6"/>
<line x1="364.7" x2="366.7" y1="310.6" y2="310.6" stroke="#111" stroke-width="0.6"/>
<line x1="364.7" x2="366.7" y1="306.0" y2="306.0" stroke="#111" stroke-width="0.6"/>
<line x1="364.7" x2="366.7" y1="302.1" y2="302.1" stroke="#111" stroke-width="0.6"/>
<line x1="364.7" x2="366.7" y1="298.8" y2="298.8" stroke="#111" stroke-width="0.6"/>
<line x1="364.7" x2="366.7" y1="295.8" y2="295.8" stroke="#111" stroke-width="0.6"/>
<line x1="363.2" x2="366.7" y1="293.2" y2="293.2" stroke="#111" stroke-width="0.80"/>
<text x="354.20" y="298.58" font-size="12.00" text-anchor="end" fill="#000" stroke="#000" stroke-width="0.15" stroke-linejoin="round">10</text>
<text x="354.50" y="290.28" font-size="7.70" fill="#000" stroke="#000" stroke-width="0.15" stroke-linejoin="round">1</text>
<line x1="364.7" x2="366.7" y1="275.8" y2="275.8" stroke="#111" stroke-width="0.6"/>
<line x1="364.7" x2="366.7" y1="265.6" y2="265.6" stroke="#111" stroke-width="0.6"/>
<line x1="364.7" x2="366.7" y1="258.3" y2="258.3" stroke="#111" stroke-width="0.6"/>
<line x1="364.7" x2="366.7" y1="252.7" y2="252.7" stroke="#111" stroke-width="0.6"/>
<line x1="364.7" x2="366.7" y1="248.1" y2="248.1" stroke="#111" stroke-width="0.6"/>
<line x1="364.7" x2="366.7" y1="244.3" y2="244.3" stroke="#111" stroke-width="0.6"/>
<line x1="364.7" x2="366.7" y1="240.9" y2="240.9" stroke="#111" stroke-width="0.6"/>
<line x1="364.7" x2="366.7" y1="238.0" y2="238.0" stroke="#111" stroke-width="0.6"/>
<line x1="363.2" x2="366.7" y1="235.3" y2="235.3" stroke="#111" stroke-width="0.80"/>
<text x="354.20" y="240.71" font-size="12.00" text-anchor="end" fill="#000" stroke="#000" stroke-width="0.15" stroke-linejoin="round">10</text>
<text x="354.50" y="232.41" font-size="7.70" fill="#000" stroke="#000" stroke-width="0.15" stroke-linejoin="round">2</text>
<line x1="364.7" x2="366.7" y1="217.9" y2="217.9" stroke="#111" stroke-width="0.6"/>
<line x1="364.7" x2="366.7" y1="207.7" y2="207.7" stroke="#111" stroke-width="0.6"/>
<line x1="364.7" x2="366.7" y1="200.5" y2="200.5" stroke="#111" stroke-width="0.6"/>
<line x1="364.7" x2="366.7" y1="194.9" y2="194.9" stroke="#111" stroke-width="0.6"/>
<line x1="364.7" x2="366.7" y1="190.3" y2="190.3" stroke="#111" stroke-width="0.6"/>
<line x1="364.7" x2="366.7" y1="186.4" y2="186.4" stroke="#111" stroke-width="0.6"/>
<line x1="364.7" x2="366.7" y1="183.0" y2="183.0" stroke="#111" stroke-width="0.6"/>
<line x1="364.7" x2="366.7" y1="180.1" y2="180.1" stroke="#111" stroke-width="0.6"/>
<line x1="363.2" x2="366.7" y1="177.4" y2="177.4" stroke="#111" stroke-width="0.80"/>
<text x="354.20" y="182.84" font-size="12.00" text-anchor="end" fill="#000" stroke="#000" stroke-width="0.15" stroke-linejoin="round">10</text>
<text x="354.50" y="174.54" font-size="7.70" fill="#000" stroke="#000" stroke-width="0.15" stroke-linejoin="round">3</text>
<line x1="364.7" x2="366.7" y1="356.7" y2="356.7" stroke="#111" stroke-width="0.6"/>
<line x1="364.7" x2="366.7" y1="353.7" y2="353.7" stroke="#111" stroke-width="0.6"/>
<line x1="379.5" x2="379.5" y1="359.9" y2="363.4" stroke="#111" stroke-width="0.80"/>
<text x="379.50" y="375.50" font-size="12.00" text-anchor="middle" fill="#000" stroke="#000" stroke-width="0.15" stroke-linejoin="round">0.0</text>
<line x1="441.4" x2="441.4" y1="359.9" y2="363.4" stroke="#111" stroke-width="0.80"/>
<text x="441.44" y="375.50" font-size="12.00" text-anchor="middle" fill="#000" stroke="#000" stroke-width="0.15" stroke-linejoin="round">0.2</text>
<line x1="503.4" x2="503.4" y1="359.9" y2="363.4" stroke="#111" stroke-width="0.80"/>
<text x="503.38" y="375.50" font-size="12.00" text-anchor="middle" fill="#000" stroke="#000" stroke-width="0.15" stroke-linejoin="round">0.4</text>
<line x1="565.3" x2="565.3" y1="359.9" y2="363.4" stroke="#111" stroke-width="0.80"/>
<text x="565.32" y="375.50" font-size="12.00" text-anchor="middle" fill="#000" stroke="#000" stroke-width="0.15" stroke-linejoin="round">0.6</text>
<line x1="627.3" x2="627.3" y1="359.9" y2="363.4" stroke="#111" stroke-width="0.80"/>
<text x="627.26" y="375.50" font-size="12.00" text-anchor="middle" fill="#000" stroke="#000" stroke-width="0.15" stroke-linejoin="round">0.8</text>
<line x1="689.2" x2="689.2" y1="359.9" y2="363.4" stroke="#111" stroke-width="0.80"/>
<text x="689.20" y="375.50" font-size="12.00" text-anchor="middle" fill="#000" stroke="#000" stroke-width="0.15" stroke-linejoin="round">1.0</text>
<text x="543.70" y="393.00" font-size="16.00" text-anchor="middle" fill="#000" stroke="#000" stroke-width="0.15" stroke-linejoin="round">Entropy</text>
<text transform="translate(336.20 261.20) rotate(-90)" font-size="16.00" text-anchor="middle" fill="#000" stroke="#000" stroke-width="0.15" stroke-linejoin="round"># bases</text>
<text x="320.70" y="172.70" font-size="25.00" fill="#000" stroke="#000" stroke-width="0.15" stroke-linejoin="round">c</text>
<rect x="569.0" y="169.7" width="145.4" height="72.3" rx="2.5" fill="#fff" fill-opacity="0.8" stroke="#d4d4d4" stroke-width="0.8"/>
<rect x="576.1" y="177.5" width="30.9" height="9.4" fill="#808080" fill-opacity="0.8"/>
<text x="620.00" y="188.34" font-size="16.00" fill="#000" stroke="#000" stroke-width="0.15" stroke-linejoin="round">All</text>
<rect x="576.1" y="199.8" width="30.9" height="9.4" fill="#ff7f0e" fill-opacity="0.8"/>
<text x="620.00" y="209.95" font-size="16.00" fill="#000" stroke="#000" stroke-width="0.15" stroke-linejoin="round">Naive PDRs</text>
<rect x="576.1" y="222.2" width="30.9" height="9.4" fill="#1f77b4" fill-opacity="0.8"/>
<text x="619.31" y="232.10" font-size="16.00" fill="#000" stroke="#000" stroke-width="0.15" stroke-linejoin="round">Olivar PDRs</text>
</svg></body></html>
